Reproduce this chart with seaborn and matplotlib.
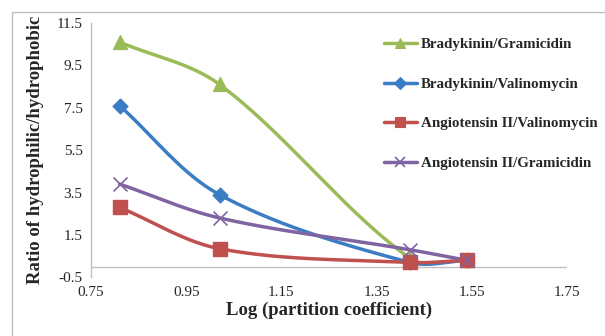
import numpy as np
import pandas as pd
import matplotlib
matplotlib.use("Agg")
import matplotlib.pyplot as plt
import seaborn as sns
from matplotlib.patches import Rectangle
from matplotlib.lines import Line2D

# ---- data ----
log_partition = [0.81, 1.02, 1.42, 1.54]
brady_gram = [10.6, 8.6, 0.4, 0.3]
brady_vali = [7.6, 3.4, 0.2, 0.3]
angio_vali = [2.8, 0.85, 0.2, 0.3]
angio_gram = [3.9, 2.3, 0.8, 0.3]
series_names = ["Bradykinin/Gramicidin", "Bradykinin/Valinomycin",
                "Angiotensin II/Valinomycin", "Angiotensin II/Gramicidin"]
x_ticks = [0.75, 0.95, 1.15, 1.35, 1.55, 1.75]
y_ticks = [-0.5, 1.5, 3.5, 5.5, 7.5, 9.5, 11.5]

colors = ["#9BBB59", "#3B7DC4", "#C0504D", "#8064A2"]
markers = ["^", "D", "s", "x"]
msizes = [10, 7.5, 10, 10]

sns.set_style("white")
plt.rcParams["font.family"] = ["Liberation Serif", "DejaVu Serif"]

# pixel scale for smoothing (screen-space, like spreadsheet smoothing)
SX, SY = 476.0, 21.2


def smooth(xs, ys, n=50):
    P = np.column_stack([np.asarray(xs) * SX, np.asarray(ys) * SY]).astype(float)
    P = np.vstack([P[0], P, P[-1]])
    out = []
    for i in range(1, len(P) - 2):
        p0, p1, p2, p3 = P[i - 1], P[i], P[i + 1], P[i + 2]
        d01 = np.linalg.norm(p1 - p0)
        d12 = np.linalg.norm(p2 - p1)
        d23 = np.linalg.norm(p3 - p2)
        f1 = d12 / (3.0 * (d01 + d12)) if d01 + d12 > 0 else 0
        f2 = d12 / (3.0 * (d12 + d23)) if d12 + d23 > 0 else 0
        c1 = p1 + (p2 - p0) * f1
        c2 = p2 - (p3 - p1) * f2
        t = np.linspace(0, 1, n)[:, None]
        seg = ((1 - t) ** 3) * p1 + 3 * ((1 - t) ** 2) * t * c1 + 3 * (1 - t) * t ** 2 * c2 + t ** 3 * p2
        out.append(seg if i == 1 else seg[1:])
    res = np.vstack(out)
    return res[:, 0] / SX, res[:, 1] / SY


fig = plt.figure(figsize=(6.05, 3.36), dpi=100)
fig.patches.append(Rectangle((12 / 605, -0.1), 1.2, 1 - 12 / 336 + 0.1,
                             transform=fig.transFigure, fill=False,
                             edgecolor="#BEBEBE", lw=1.0))
ax = fig.add_axes([91 / 605, 1 - 277.3 / 336, (567 - 91) / 605, (277.3 - 23) / 336])

all_series = [brady_gram, brady_vali, angio_vali, angio_gram]
rows = []
for name, ys in zip(series_names, all_series):
    for x, y in zip(log_partition, ys):
        rows.append({"x": x, "y": y, "series": name})
df = pd.DataFrame(rows)

handles = []
for name, ys, c, m, ms in zip(series_names, all_series, colors, markers, msizes):
    cx, cy = smooth(log_partition, ys)
    cdf = pd.DataFrame({"x": cx, "y": cy})
    sns.lineplot(data=cdf, x="x", y="y", sort=False, estimator=None, ax=ax,
                 color=c, lw=2.5, zorder=3)
    sub = df[df.series == name]
    if m == "x":
        ax.scatter(sub.x, sub.y, marker="x", s=ms ** 2, color=c, linewidths=1.2, zorder=4)
    else:
        ax.scatter(sub.x, sub.y, marker=m, s=ms ** 2, color=c, edgecolors=c, zorder=4)
    handles.append(Line2D([0], [0], color=c, lw=2.5, marker=m,
                          markersize=ms * 0.75, markeredgewidth=1.2 if m == "x" else 0.8))

ax.axhline(0, color="#BFBFBF", lw=1.0, zorder=1)
ax.set_xlim(0.75, 1.75)
ax.set_ylim(-0.5, 11.5)
ax.set_xticks(x_ticks)
ax.set_xticklabels([f"{v:.2f}" for v in x_ticks], fontsize=11)
ax.set_yticks(y_ticks)
ax.set_yticklabels([f"{v}" for v in y_ticks], fontsize=11)
ax.tick_params(length=0, pad=6)
for s in ["top", "right", "bottom"]:
    ax.spines[s].set_visible(False)
ax.spines["left"].set_color("#BFBFBF")
ax.spines["left"].set_linewidth(1.0)
ax.set_xlabel("Log (partition coefficient)", fontsize=13.5, fontweight="bold", labelpad=2)
ax.set_ylabel("Ratio of hydrophilic/hydrophobic", fontsize=13.5, fontweight="bold", labelpad=9)

leg = fig.legend(handles, series_names, loc="upper left",
                 bbox_to_anchor=(370 / 605, 1 - 24 / 336),
                 frameon=False, prop={"weight": "bold", "size": 10.8},
                 handlelength=2.2, labelspacing=1.75, handletextpad=0.3)
fig.savefig("out.png", dpi=100)
